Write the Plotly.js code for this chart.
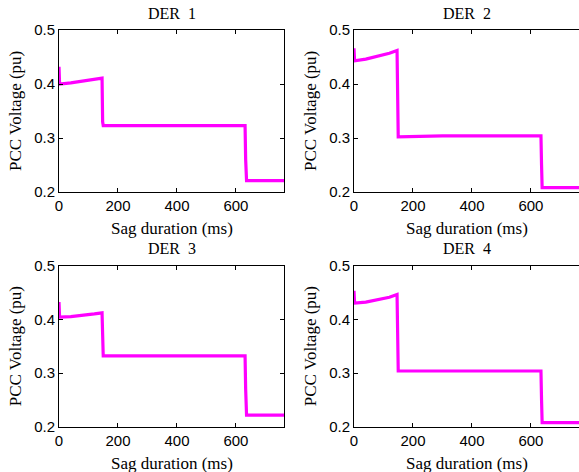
<!DOCTYPE html>
<html><head><meta charset="utf-8">
<script src="https://cdn.plot.ly/plotly-3.0.1.min.js"></script>
<style>html,body{margin:0;padding:0;background:#fff}#chart{width:579px;height:472px}</style>
</head><body><div id="chart"></div>
<script>
// Data (time in ms, voltage in pu)
const panelTitles = ["DER  1", "DER  2", "DER  3", "DER  4"];
const xTicks = [0, 200, 400, 600];
const yTicks = [0.2, 0.3, 0.4, 0.5];

const t1 = [0, 0, 2, 40, 80, 120, 146, 148, 150, 300, 500, 631, 633, 636, 763];
const v1 = [0.432, 0.410, 0.400, 0.402, 0.405, 0.408, 0.411, 0.330, 0.323, 0.323, 0.323, 0.323, 0.260, 0.221, 0.221];

const t2 = [0, 0, 2, 40, 80, 120, 146, 148, 150, 300, 500, 634, 636, 638, 763];
const v2 = [0.466, 0.450, 0.443, 0.446, 0.451, 0.457, 0.462, 0.310, 0.302, 0.304, 0.304, 0.304, 0.250, 0.208, 0.208];

const t3 = [0, 0, 2, 40, 80, 120, 146, 148, 150, 300, 500, 631, 633, 636, 763];
const v3 = [0.432, 0.412, 0.404, 0.405, 0.407, 0.410, 0.412, 0.340, 0.332, 0.332, 0.332, 0.332, 0.270, 0.222, 0.222];

const t4 = [0, 0, 2, 40, 80, 120, 146, 148, 150, 300, 500, 634, 636, 638, 763];
const v4 = [0.453, 0.440, 0.430, 0.432, 0.436, 0.441, 0.446, 0.312, 0.304, 0.304, 0.304, 0.304, 0.250, 0.208, 0.208];

const series = [[t1, v1], [t2, v2], [t3, v3], [t4, v4]];

const W = 579, H = 472;
const xDom = [[59 / W, 284 / W], [354 / W, 1.0]];
const yDom = [[1 - 192 / H, 1 - 30 / H], [1 - 427 / H, 1 - 265.5 / H]];

const serif = "Liberation Serif, Times New Roman, serif";
const sans = "Liberation Sans, Arial, sans-serif";

const traces = [];
const layout = {
  width: W, height: H,
  margin: {l: 0, r: 0, t: 0, b: 0},
  paper_bgcolor: "#fff", plot_bgcolor: "#fff",
  showlegend: false,
  annotations: [],
  font: {family: sans, size: 15, color: "#000"}
};

series.forEach((s, i) => {
  const n = i + 1;
  const col = i % 2, row = Math.floor(i / 2);
  const xa = n === 1 ? "x" : "x" + n, ya = n === 1 ? "y" : "y" + n;
  const xk = n === 1 ? "xaxis" : "xaxis" + n, yk = n === 1 ? "yaxis" : "yaxis" + n;
  traces.push({
    x: s[0], y: s[1], xaxis: xa, yaxis: ya, type: "scatter", mode: "lines",
    line: {color: "#ff00ff", width: 3.2}, hoverinfo: "skip"
  });
  layout[xk] = {
    domain: xDom[col], anchor: ya, range: [0, 763],
    tickvals: xTicks, ticktext: xTicks.map(String),
    ticks: "inside", ticklen: 4, tickcolor: "#000",
    showline: true, linecolor: "#000", linewidth: 1, mirror: "ticks",
    showgrid: false, zeroline: false,
    tickfont: {family: sans, size: 15, color: "#000"}
  };
  layout[yk] = {
    domain: yDom[row], anchor: xa, range: [0.2, 0.5],
    tickvals: yTicks, ticktext: yTicks.map(v => v.toFixed(1)),
    ticks: "inside", ticklen: 4, tickcolor: "#000",
    showline: true, linecolor: "#000", linewidth: 1, mirror: col === 0 ? "ticks" : false,
    showgrid: false, zeroline: false,
    tickfont: {family: sans, size: 15, color: "#000"}
  };
  const xc = (xDom[col][0] + (col === 0 ? xDom[col][1] : (354 + 225) / W)) / 2;
  const topPx = row === 0 ? 30 : 265.5;
  const botPx = row === 0 ? 192 : 427;
  layout.annotations.push({
    text: panelTitles[i], xref: "paper", yref: "paper",
    x: xc, y: 1 - (topPx - 17) / H, xanchor: "center", yanchor: "middle",
    showarrow: false, font: {family: serif, size: 16, color: "#000"}
  });
  layout.annotations.push({
    text: "Sag duration (ms)", xref: "paper", yref: "paper",
    x: xc, y: 1 - (botPx + 36) / H, xanchor: "center", yanchor: "middle",
    showarrow: false, font: {family: serif, size: 17, color: "#000"}
  });
  layout.annotations.push({
    text: "PCC Voltage (pu)", xref: "paper", yref: "paper", textangle: -90,
    x: (xDom[col][0] * W - 44) / W, y: 1 - ((topPx + botPx) / 2) / H, xanchor: "center", yanchor: "middle",
    showarrow: false, font: {family: serif, size: 17, color: "#000"}
  });
});

Plotly.newPlot("chart", traces, layout, {displayModeBar: false, staticPlot: true});
</script></body></html>
